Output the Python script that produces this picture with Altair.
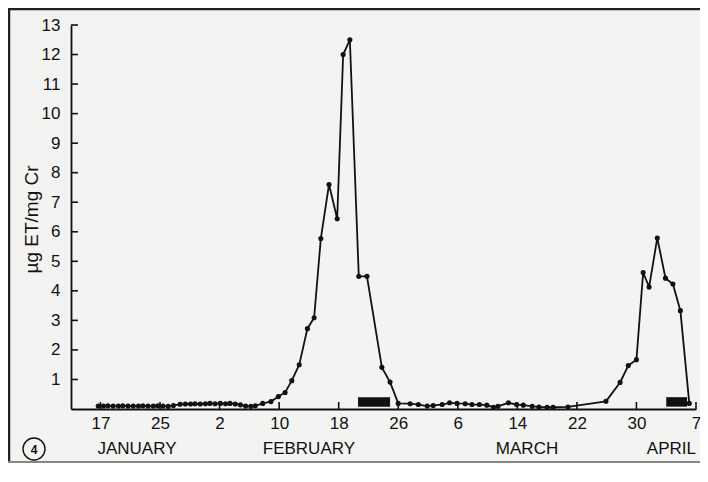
import json
import altair as alt
import pandas as pd

# ---- data (day 0 = 17 January) ----
days = [-0.3, 0.4, 1.0, 1.7, 2.4, 3.0, 3.7, 4.4, 5.1, 5.7, 6.4, 7.1, 7.7, 8.4, 9.1, 9.8,
        10.7, 11.4, 12.1, 12.7, 13.4, 14.1, 14.7, 15.4, 16.1, 16.8, 17.4, 18.1,
        18.8, 19.5, 20.2, 20.8,
        21.8, 22.9, 23.9, 24.8, 25.7, 26.7, 27.8, 28.7, 29.6, 30.7, 31.8, 32.6, 33.5,
        34.7, 35.8, 37.8, 38.9, 40.0,
        41.6, 42.7, 43.9, 44.7, 45.9, 46.9, 47.9, 49.0, 49.9, 50.9, 51.9, 52.8, 53.4,
        54.8, 55.9, 56.8, 58.0, 58.9, 60.0, 60.8, 62.8,
        67.9, 69.8, 70.9, 72.0, 72.9, 73.7, 74.8, 75.9, 76.9, 77.9, 79.1]
values = [0.10, 0.10, 0.11, 0.10, 0.10, 0.11, 0.10, 0.10, 0.10, 0.11, 0.10, 0.10, 0.11, 0.10, 0.09, 0.12,
          0.16, 0.17, 0.17, 0.18, 0.17, 0.18, 0.19, 0.18, 0.19, 0.18, 0.19, 0.17,
          0.14, 0.10, 0.09, 0.11,
          0.19, 0.25, 0.42, 0.56, 0.96, 1.50, 2.72, 3.09, 5.77, 7.60, 6.44, 12.0, 12.5,
          4.49, 4.49, 1.41, 0.91, 0.19,
          0.18, 0.15, 0.10, 0.12, 0.15, 0.21, 0.19, 0.18, 0.15, 0.15, 0.13, 0.06, 0.09,
          0.21, 0.15, 0.13, 0.09, 0.07, 0.06, 0.06, 0.07,
          0.26, 0.90, 1.47, 1.67, 4.62, 4.13, 5.79, 4.43, 4.23, 3.33, 0.19]

tick_days = [0, 8, 16, 24, 32, 40, 48, 56, 64, 72, 80]
tick_labels = ["17", "25", "2", "10", "18", "26", "6", "14", "22", "30", "7"]
y_ticks = [1, 2, 3, 4, 5, 6, 7, 8, 9, 10, 11, 12, 13]

month_names = ["JANUARY", "FEBRUARY", "MARCH", "APRIL"]
month_days = [4.9, 28.0, 57.3, 76.7]

bar_start = [34.6, 76.0]
bar_end = [38.9, 78.8]
bar_low = [0.08, 0.08]
bar_high = [0.40, 0.40]

# ---- layout ----
W, H = 625, 384
FONT = "Liberation Sans"
INK = "#111111"

xs = alt.Scale(domain=[-3.96, 80], nice=False, zero=False)
ys = alt.Scale(domain=[0, 13], nice=False, zero=True)

df = pd.DataFrame({"day": days, "value": values})
bars = pd.DataFrame({"s": bar_start, "e": bar_end, "lo": bar_low, "hi": bar_high})
ytk = pd.DataFrame({"v": y_ticks})
xtk = pd.DataFrame({"d": tick_days})
months = pd.DataFrame({"name": month_names, "d": month_days})

label_expr = json.dumps(tick_labels) + "[round(datum.value / 8)]"

x_axis = alt.Axis(values=tick_days, labelExpr=label_expr, ticks=False, grid=False,
                  domainColor=INK, domainWidth=1.8, labelFont=FONT, labelFontSize=17,
                  labelColor=INK, labelPadding=6, labelOverlap=False, labelFlush=False,
                  title=None)
y_axis = alt.Axis(values=y_ticks, ticks=False, grid=False, domainColor=INK, domainWidth=1.8,
                  labelFont=FONT, labelFontSize=17, labelColor=INK, labelPadding=11,
                  labelOverlap=False, labelFlush=False,
                  title="µg  ET/mg  Cr", titleFont=FONT, titleFontSize=19, titleFontWeight="normal",
                  titleColor=INK, titleX=-30, titleY=194, titleAngle=270)


def X(field):
    return alt.X(field, scale=xs, axis=x_axis)


def Y(field):
    return alt.Y(field, scale=ys, axis=y_axis)


base = alt.Chart(df)
line = base.mark_line(color=INK, strokeWidth=1.8).encode(x=X("day:Q"), y=Y("value:Q"))
pts = base.mark_point(shape="circle", filled=True, size=26, color=INK, opacity=1).encode(
    x=X("day:Q"), y=Y("value:Q")
)
rects = alt.Chart(bars).mark_rect(color=INK).encode(
    x=X("s:Q"), x2="e:Q", y=Y("lo:Q"), y2="hi:Q",
)
yticks = alt.Chart(ytk).mark_rule(color=INK, strokeWidth=1.6).encode(
    y=Y("v:Q"), x=alt.value(0), x2=alt.value(7)
)
xticks = alt.Chart(xtk).mark_rule(color=INK, strokeWidth=1.6).encode(
    x=X("d:Q"), y=alt.value(H), y2=alt.value(H - 7)
)
month_text = alt.Chart(months).mark_text(font=FONT, fontSize=17, color=INK,
                                         align="center", baseline="middle").encode(
    x=X("d:Q"), y=alt.value(H + 40), text="name:N"
)
circ = alt.Chart(pd.DataFrame({"t": ["4"]})).mark_point(
    shape="circle", filled=False, size=484, stroke=INK, strokeWidth=1.4, opacity=1
).encode(x=alt.value(-37), y=alt.value(H + 40))
circ_txt = alt.Chart(pd.DataFrame({"t": ["4"]})).mark_text(
    font=FONT, fontSize=12, fontWeight="bold", color=INK, align="center", baseline="middle"
).encode(x=alt.value(-37), y=alt.value(H + 41), text="t:N")

frame_top = alt.Chart(pd.DataFrame({"t": [0]})).mark_rule(color="#222", strokeWidth=2.5).encode(
    x=alt.value(-63), x2=alt.value(W + 4), y=alt.value(-16)
)
frame_left = alt.Chart(pd.DataFrame({"t": [0]})).mark_rule(color="#222", strokeWidth=2.5).encode(
    x=alt.value(-62), y=alt.value(-17), y2=alt.value(H + 54)
)
frame_bottom = alt.Chart(pd.DataFrame({"t": [0]})).mark_rule(color="#888", strokeWidth=2).encode(
    x=alt.value(-63), x2=alt.value(W + 4), y=alt.value(H + 53)
)

chart = alt.layer(
    line, pts, rects, yticks, xticks, month_text, circ, circ_txt,
    frame_top, frame_left, frame_bottom,
).properties(
    width=W, height=H,
    autosize=alt.AutoSizeParams(type="none"),
    padding={"left": 63, "top": 17, "right": 4, "bottom": 54},
    background="#f3f3f1",
).configure_view(stroke=None)

chart.save("out.html", embed_options={"renderer": "svg", "actions": False})
